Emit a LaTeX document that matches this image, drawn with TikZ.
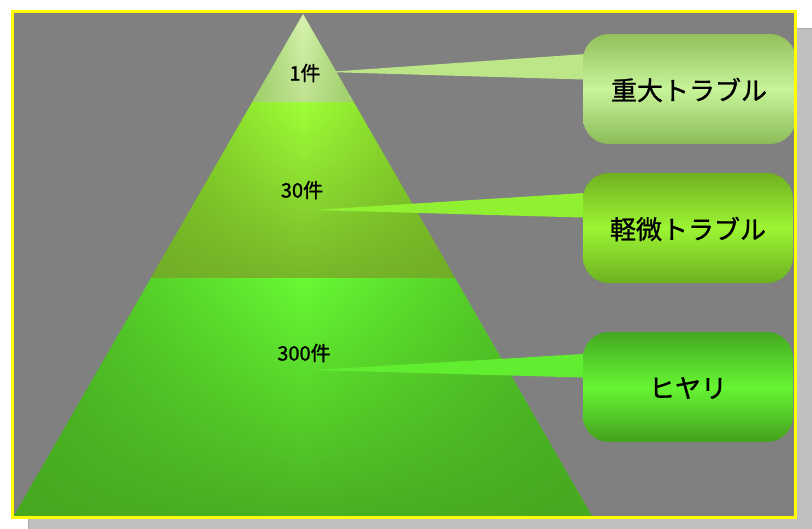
\documentclass[tikz,border=0pt]{standalone}
\usepackage{fontspec}
\newfontfamily\jp{Noto Sans CJK JP}[FakeBold=1]
\usetikzlibrary{fadings}
\definecolor{bggray}{HTML}{808080}
\definecolor{shadowgray}{HTML}{C0C0C0}
\definecolor{shadowline}{HTML}{A8A8A8}
\definecolor{frameyellow}{HTML}{FFFF00}
\definecolor{pA}{HTML}{98CE60}
\definecolor{pAm}{HTML}{D8F4B0}
\definecolor{pAd}{HTML}{A8D074}
\definecolor{pB}{HTML}{78C220}
\definecolor{pBm}{HTML}{A0FF38}
\definecolor{pBd}{HTML}{70AA28}
\definecolor{pC}{HTML}{48B022}
\definecolor{pCm}{HTML}{68FA34}
\definecolor{pCd}{HTML}{46A820}
\definecolor{wA}{HTML}{BCE688}
\definecolor{wB}{HTML}{92F032}
\definecolor{wC}{HTML}{62EE30}
\definecolor{bAt}{HTML}{92C05A}
\definecolor{bAm}{HTML}{C8F49A}
\definecolor{bAb}{HTML}{8CBC58}
\definecolor{bBt}{HTML}{70B020}
\definecolor{bBm}{HTML}{9CF533}
\definecolor{bBb}{HTML}{6CB020}
\definecolor{bCt}{HTML}{44A820}
\definecolor{bCm}{HTML}{66F533}
\definecolor{bCb}{HTML}{44A01E}
\tikzfading[name=fadedown, top color=transparent!100, bottom color=transparent!0]
\begin{document}
\begin{tikzpicture}[x=1pt,y=-1pt,
  countlabel/.style={font=\jp\fontsize{20}{24}\selectfont, text=black, inner sep=0pt},
  boxlabel/.style={font=\jp\fontsize{26}{30}\selectfont, text=black, inner sep=0pt},
  calloutbox/.style={rounded corners=26pt}]
\useasboundingbox (0,0) rectangle (812,528);
% shadow and frame
\filldraw[fill=shadowgray, draw=shadowline, line width=1pt] (28,28) rectangle (813,529);
\fill[bggray] (12,11) rectangle (795,517);
\begin{scope}
\clip (12,11) rectangle (795,517);
% pyramid layers
\coordinate (apex) at (303,14);
\coordinate (l1) at (252.3,102); \coordinate (r1) at (353.7,102);
\coordinate (l2) at (151,278);   \coordinate (r2) at (455,278);
\coordinate (l3) at (14,516);    \coordinate (r3) at (592,516);
\shade[left color=pC, right color=pC, middle color=pCm] (l2) -- (r2) -- (r3) -- (l3) -- cycle;
\fill[pCd, opacity=0.9, path fading=fadedown] (l2) -- (r2) -- (r3) -- (l3) -- cycle;
\shade[left color=pB, right color=pB, middle color=pBm] (l1) -- (r1) -- (r2) -- (l2) -- cycle;
\fill[pBd, opacity=0.85, path fading=fadedown] (l1) -- (r1) -- (r2) -- (l2) -- cycle;
\shade[left color=pA, right color=pA, middle color=pAm] (apex) -- (r1) -- (l1) -- cycle;
\fill[pAd, opacity=0.5, path fading=fadedown] (apex) -- (r1) -- (l1) -- cycle;
% callout wedges
\coordinate (t1) at (327,72);  \coordinate (a1) at (600,53);  \coordinate (b1) at (600,80);
\coordinate (t2) at (312,210); \coordinate (a2) at (600,192); \coordinate (b2) at (600,218);
\coordinate (t3) at (313,370); \coordinate (a3) at (600,353); \coordinate (b3) at (600,378);
\fill[wA] (t1) -- (a1) -- (b1) -- cycle;
\fill[wB] (t2) -- (a2) -- (b2) -- cycle;
\fill[wC] (t3) -- (a3) -- (b3) -- cycle;
% callout boxes
\shade[calloutbox, top color=bAt, bottom color=bAb, middle color=bAm] (583,34) rectangle (796,144);
\shade[calloutbox, top color=bBt, bottom color=bBb, middle color=bBm] (583,173) rectangle (793,283);
\shade[calloutbox, top color=bCt, bottom color=bCb, middle color=bCm] (583,332) rectangle (793,442);
\end{scope}
% labels
\node[countlabel] (c1) at (305,73) {1件};
\node[countlabel] (c2) at (302,190) {30件};
\node[countlabel] (c3) at (304,353) {300件};
\node[boxlabel] (n1) at (689,90) {重大トラブル};
\node[boxlabel] (n2) at (688,229) {軽微トラブル};
\node[boxlabel] (n3) at (688,388) {ヒヤリ};
% frame border
\draw[frameyellow, line width=3pt] (12,11) rectangle (795,517);
\end{tikzpicture}
\end{document}
